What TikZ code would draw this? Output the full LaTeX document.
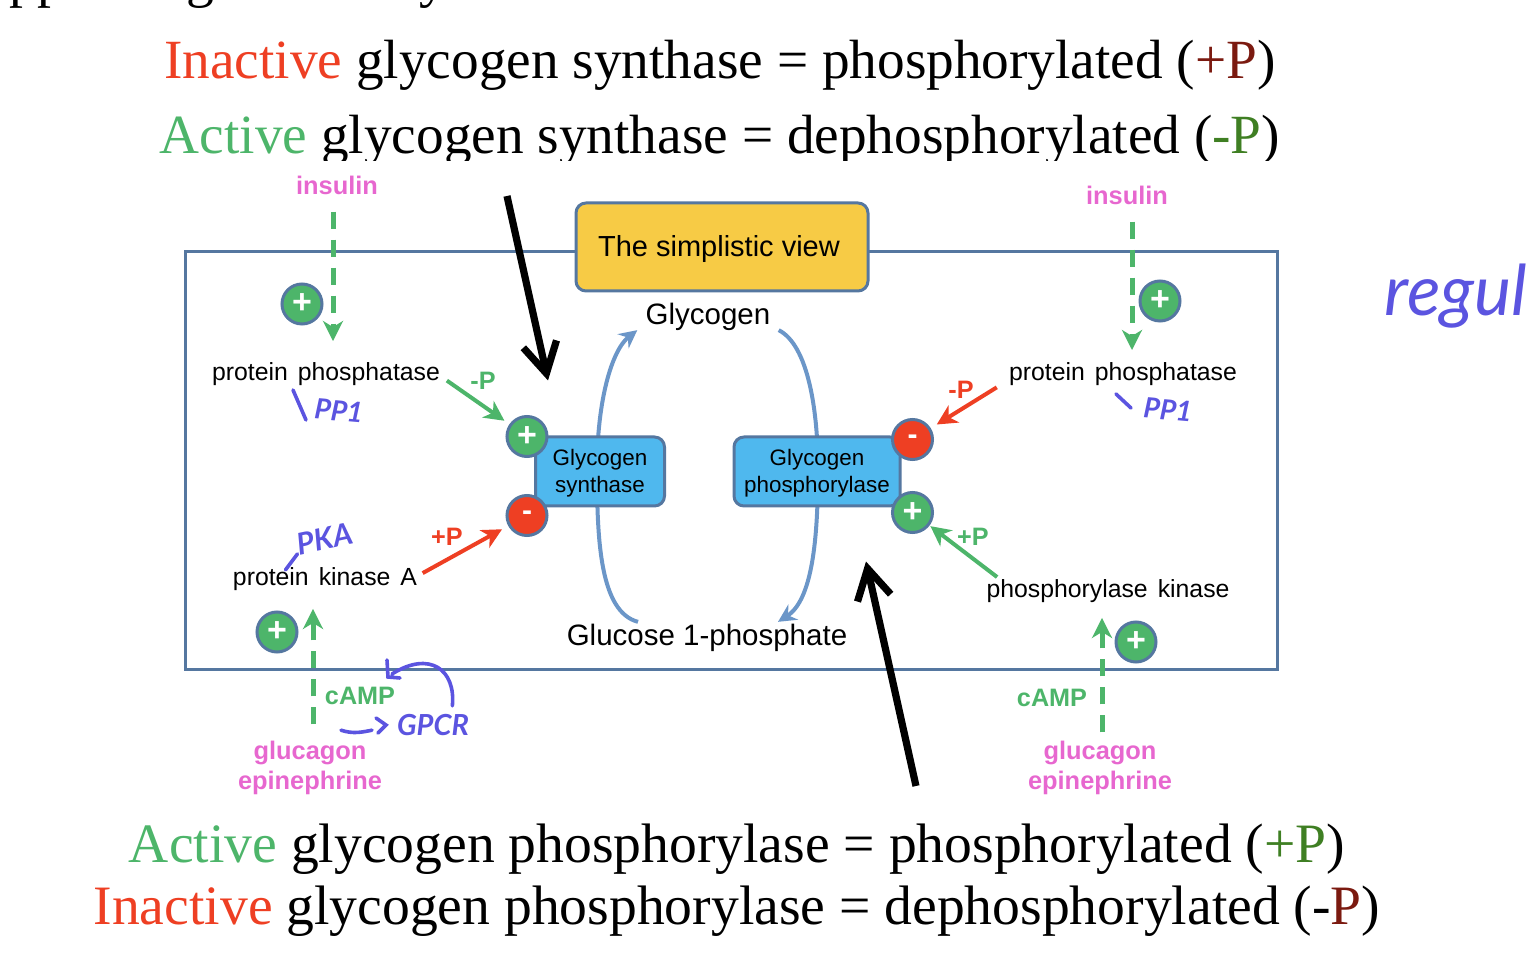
\documentclass[tikz,border=0pt]{standalone}
\usepackage{fontspec}
\setmainfont{Liberation Serif}
\setsansfont{Liberation Sans}
\newfontfamily\inkfont{Lato}
\usetikzlibrary{positioning,arrows.meta}
\definecolor{frameblue}{HTML}{5577A0}
\definecolor{curveblue}{HTML}{6B96C8}
\definecolor{boxblue}{HTML}{4FB8EE}
\definecolor{boxyellow}{HTML}{F7CB45}
\definecolor{actgreen}{HTML}{4DB56A}
\definecolor{actred}{HTML}{EE3F23}
\definecolor{darkgreen}{HTML}{3F7F23}
\definecolor{darkred}{HTML}{7B1A10}
\definecolor{hormone}{HTML}{E767CF}
\definecolor{ink}{HTML}{5B54E0}
\newcommand{\serifsize}{\fontsize{27.8}{30}\selectfont}
\newcommand{\dn}[1]{\raisebox{-1pt}[\height][\depth]{#1}}

\begin{document}
\begin{tikzpicture}[
		x=0.5pt,y=-0.5pt,
		s/.style={anchor=base,font=\serifsize},
		g/.style={rectangle,draw=frameblue,line width=1.5pt,rounded corners=5pt,align=center,font=\sffamily\fontsize{11.2}{13.6}\selectfont},
		t/.style={inner sep=0pt,font=\sffamily\fontsize{12.4}{15}\selectfont},
		m/.style={inner sep=0pt,font=\sffamily\fontsize{14.75}{17}\selectfont},
		h/.style={inner sep=0pt,align=center,text=hormone,font=\sffamily\bfseries\fontsize{12.7}{15.4}\selectfont},
		l/.style={inner sep=0pt,font=\sffamily\bfseries\fontsize{12.6}{15}\selectfont},
		plus/.style={circle,draw=frameblue,fill=actgreen,line width=1.5pt,minimum size=20pt,inner sep=0pt,text=white,font=\sffamily\bfseries\fontsize{17}{17}\selectfont},
		minus/.style={plus,fill=actred,font=\sffamily\bfseries\fontsize{15}{15}\selectfont},
		a/.style={draw,line width=2pt,-{Stealth[length=10pt,width=10pt,inset=3pt]}},
		d/.style={a,draw=actgreen,line width=2.5pt,dash pattern=on 8.5pt off 5.5pt},
		c/.style={draw=curveblue,line width=2pt},
		b/.style={draw=black,line width=3.6pt,-{Straight Barb[length=15pt,width=17pt,line width=3.6pt]}},
		i/.style={draw=ink,line width=1.8pt,line cap=round},
		n/.style={inner sep=0pt,text=ink,font=\inkfont\bfseries\itshape\fontsize{14}{14}\selectfont}
		]
		
		\useasboundingbox (0,0) rectangle (1528,972);
		
		\node [s] (cut a) at (37,-3) {pp};
		\node [s] (cut b) at (200,-3) {g};
		\node [s] (cut c) at (433,-3) {y};
		
		\node [s,font=\fontsize{27.65}{30}\selectfont] (line1) at (720,79) {\textcolor{actred}{Inactive} glycogen synthase = phosphorylated (\textcolor{darkred}{+P})};
		\node [s,font=\fontsize{27.65}{30}\selectfont] (line2) at (720,154) {\textcolor{actgreen}{Active} glycogen synthase = dephosphorylated (\textcolor{darkgreen}{-P})};
		\fill [white] (150,161) rectangle (1300,176);
		\node [s] (line3) at (737,863) {\textcolor{actgreen}{Active} glycogen phosphorylase = phosphorylated (\textcolor{darkgreen}{+P})};
		\node [s] (line4) at (737,925) {\textcolor{actred}{Inactive} glycogen phosphorylase = dephosphorylated (-\textcolor{darkred}{P})};
		
		\draw [frameblue,line width=1.5pt] (185,252) rectangle (1277,670);
		
		\node [m] (glycogen) at (708,317) {Glycogen};
		\node [m] (glucose) at (707,638) {Glucose 1-phosphate};
		
		\path [c,-{Stealth[length=9pt,width=9pt,inset=3pt]}] ([xshift=-34.5pt,yshift=1pt]glucose.north) .. controls (600,612) and (597,540) .. (597,470) .. controls (597,400) and (612,350) .. ([xshift=-4pt,yshift=0.5pt]glycogen.south west);
		\path [c,-{Stealth[length=9pt,width=9pt,inset=3pt]}] ([xshift=4pt,yshift=0.5pt]glycogen.south east) .. controls (808,345) and (818,410) .. (818,470) .. controls (818,540) and (812,600) .. ([xshift=35.5pt,yshift=1pt]glucose.north);
		
		\node [g,fill=boxyellow,minimum width=146pt,minimum height=44pt,font=\sffamily\fontsize{14.5}{17}\selectfont] (view) at (722,247) {\dn{The simplistic view\hspace{3pt}}};
		\node [g,fill=boxblue,minimum width=64.5pt,minimum height=34.5pt] (synthase) at (600,471.5) {\dn{Glycogen}\\\dn{synthase}};
		\node [g,fill=boxblue,minimum width=83pt,minimum height=34.5pt] (phosphorylase) at (817,471.5) {\dn{Glycogen}\\\dn{phosphorylase}};
		
		\node [plus,xshift=-3.5pt,yshift=-0.5pt] (synthase plus) at (synthase.north west) {+};
		\node [minus,xshift=-3.5pt,yshift=-4pt] (synthase minus) at (synthase.south west) {-};
		\node [minus,xshift=5.5pt,yshift=-2pt] (phosphorylase minus) at (phosphorylase.north east) {-};
		\node [plus,xshift=5.5pt,yshift=-2.5pt] (phosphorylase plus) at (phosphorylase.south east) {+};
		
		\node [t] (phosphatase left) at (326,374) {protein\hspace{5pt}phosphatase};
		\node [t] (kinase left) at (325,579) {protein\hspace{5pt}kinase\hspace{5pt}A};
		\node [t] (phosphatase right) at (1123,374) {protein\hspace{5pt}phosphatase};
		\node [t] (kinase right) at (1108,591) {phosphorylase\hspace{5pt}kinase};
		
		\node [h] (insulin left) at (337,185) {insulin};
		\node [h] (insulin right) at (1127,195) {insulin};
		\node [h] (glucagon left) at (310,768) {glucagon\\epinephrine};
		\node [h] (glucagon right) at (1100,768) {glucagon\\epinephrine};
		\node [l,text=actgreen] (camp left) at (360,696) {cAMP};
		\node [l,text=actgreen] (camp right) at (1052,698) {cAMP};
		
		\node [plus] (insulin left plus) at (302,304) {+};
		\node [plus] (insulin right plus) at (1160,301) {+};
		\node [plus] (glucagon left plus) at (277,632) {+};
		\node [plus] (glucagon right plus) at (1136,642) {+};
		
		\node [l,text=actgreen] (minus p left) at (483,381) {-P};
		\node [l,text=actred] (plus p left) at (447,537) {+P};
		\node [l,text=actred] (minus p right) at (961,390) {-P};
		\node [l,text=actgreen] (plus p right) at (973,537) {+P};
		
		\path [a,draw=actgreen,shorten <=4pt,shorten >=3pt] ([yshift=-1pt]phosphatase left.east) -- (synthase plus);
		\path [a,draw=actred,shorten <=3pt,shorten >=3.5pt] ([yshift=1.5pt]kinase left.east) -- (synthase minus);
		\path [a,draw=actred,shorten <=7pt,shorten >=3.5pt] ([yshift=-3pt]phosphatase right.west) -- (phosphorylase minus);
		\path [a,draw=actgreen,shorten >=0.5pt] ([xshift=5.5pt,yshift=1pt]kinase right.north west) -- (phosphorylase plus);
		
		\path [d,shorten <=8.5pt,shorten >=10.5pt] ([xshift=-2pt]insulin left.south) -- ([xshift=3.5pt]phosphatase left.north);
		\path [d,shorten <=8.5pt,shorten >=6pt] ([xshift=2.5pt]insulin right.south) -- ([xshift=4.5pt]phosphatase right.north);
		\path [d,shorten <=8pt,shorten >=9pt] ([xshift=1.5pt]glucagon left.north) -- ([xshift=-6pt]kinase left.south);
		\path [d,shorten <=4pt,shorten >=7.5pt] ([xshift=1pt]glucagon right.north) -- ([xshift=-3pt]kinase right.south);
		
		\coordinate (pen synthase) at (507,196);
		\coordinate (pen phosphorylase) at (916,786);
		\path [b] (pen synthase) -- ([xshift=-26pt,yshift=27.5pt]synthase.north);
		\path [b] (pen phosphorylase) -- ([xshift=24.5pt,yshift=-27pt]phosphorylase.south);
		
		\node [n,rotate=-5] (pp left) at (339,411) {PP1};
		\node [n,rotate=-5] (pp right) at (1168,410) {PP1};
		\node [n,rotate=12,font=\inkfont\bfseries\itshape\fontsize{15}{15}\selectfont] (pka) at (325,539) {PKA};
		\node [n,font=\inkfont\bfseries\itshape\fontsize{14.5}{15}\selectfont] (gpcr) at (433,725) {GPCR};
		\node [n,font=\inkfont\itshape\fontsize{35}{35}\selectfont] (regul) at (1456,296) {regul};
		
		\path [i] ([xshift=-23pt,yshift=10.5pt]pp left.center) -- ([xshift=-16.5pt,yshift=-4.5pt]pp left.center);
		\path [i] ([xshift=-26pt,yshift=8pt]pp right.center) -- ([xshift=-18.5pt,yshift=1pt]pp right.center);
		\path [i] ([xshift=-7pt,yshift=-7pt]pka.south west) -- ([xshift=-1pt,yshift=1pt]pka.south west);
		\path [i] ([xshift=-9.5pt,yshift=-12.5pt]camp left.south) .. controls +(12,4) and +(-10,2) .. ([xshift=6pt,yshift=-12.5pt]camp left.south) (376,718) -- (386,725) -- (378,733);
		\path [i] ([xshift=-8.5pt,yshift=4pt]gpcr.north east) .. controls (456,670) and (430,650) .. (392,674) (387,660) -- (388,677) -- (400,678);
		
	\end{tikzpicture}
\end{document}
